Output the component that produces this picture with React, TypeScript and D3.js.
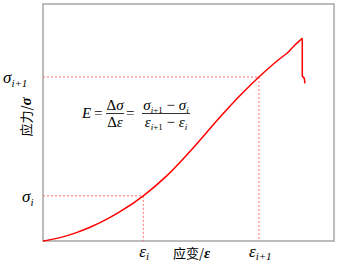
import * as d3 from 'd3';

// stress-strain curve (arbitrary units 0-100)
const strain = [0, 5.84, 11.0, 16.15, 21.3, 26.46, 34.47, 42.5, 50.5, 60.8, 67.7, 74.2, 79.7, 82.6, 83.85, 86.0, 89.1];
const stress = [0, 1.43, 3.33, 5.78, 8.78, 12.36, 19.07, 27.47, 37.8, 52.2, 61.35, 69.2, 75.2, 78.06, 79.2, 82.0, 85.5];
// fracture drop after the peak
const dropStrain = [89.1, 89.1, 89.8, 90.0];
const dropStress = [85.5, 69.6, 68.6, 66.5];

// the two marked points i and i+1
const markStrain = [34.47, 74.2];
const markStress = [19.07, 69.2];
const markSub = ['i', 'i+1'];

const xTitle = '应变/';
const yTitle = '应力/';

const serif = '"Liberation Serif", "Times New Roman", serif';
const cjk = '"Noto Sans CJK SC", sans-serif';

export default function App() {
  const width = 340;
  const height = 266;
  const margin = { top: 4, right: 6, bottom: 25, left: 43 };

  const x = d3.scaleLinear().domain([0, 100]).range([margin.left, width - margin.right]);
  const y = d3.scaleLinear().domain([0, 100]).range([height - margin.bottom, margin.top]);

  const rise = strain.map((s, i) => [s, stress[i]] as [number, number]);
  const drop = dropStrain.map((s, i) => [s, dropStress[i]] as [number, number]);

  const smooth = d3.line<[number, number]>()
    .x(d => x(d[0]))
    .y(d => y(d[1]))
    .curve(d3.curveMonotoneX);
  const straight = d3.line<[number, number]>()
    .x(d => x(d[0]))
    .y(d => y(d[1]));

  const x0 = x(0), y0 = y(0);

  return (
    <svg width={width} height={height} style={{ position: 'absolute', left: 0, top: 0 }}>
      <rect x={x0} y={margin.top} width={x(100) - x0} height={y0 - margin.top}
        fill="none" stroke="#a6a6a6" strokeWidth={1.5} />

      {markStrain.map((s, i) => (
        <g key={i} stroke="#ff7070" strokeWidth={1} strokeDasharray="2,2" fill="none">
          <line x1={x0} x2={x(s)} y1={y(markStress[i])} y2={y(markStress[i])} />
          <line x1={x(s)} x2={x(s)} y1={y(markStress[i])} y2={y0} />
        </g>
      ))}

      <path d={smooth(rise) ?? ''} fill="none" stroke="#ff0000" strokeWidth={1.5} />
      <path d={straight(drop) ?? ''} fill="none" stroke="#ff0000" strokeWidth={1.5} />

      {/* y-axis labels */}
      {markStress.map((v, i) => (
        <text key={i} x={i === 0 ? 22 : 3} y={y(v) + 6} fontFamily={serif} fontStyle="italic" fontSize={17}>
          σ<tspan fontSize={11} dy={4}>{markSub[i]}</tspan>
        </text>
      ))}
      {/* x-axis labels */}
      {markStrain.map((s, i) => (
        <text key={i} x={x(s) - (i === 0 ? 4 : 10)} y={257} fontFamily={serif} fontStyle="italic" fontSize={17}>
          ε<tspan fontSize={11} dy={3}>{markSub[i]}</tspan>
        </text>
      ))}

      <text x={173} y={258} fontSize={13} fontFamily={cjk}>
        {xTitle}<tspan fontFamily={serif} fontStyle="italic" fontWeight="bold" fontSize={15}>ε</tspan>
      </text>
      <text transform="translate(31,117) rotate(-90)" textAnchor="middle" fontSize={13} fontFamily={cjk}>
        {yTitle}<tspan fontFamily={serif} fontStyle="italic" fontWeight="bold" fontSize={15}>σ</tspan>
      </text>

      {/* modulus formula */}
      <g fontFamily={serif} fontSize={15}>
        <text x={82} y={118} fontStyle="italic">E</text>
        <text x={94} y={118}>=</text>
        <text x={115} y={110} textAnchor="middle">Δ<tspan fontStyle="italic">σ</tspan></text>
        <line x1={106} x2={124} y1={113.5} y2={113.5} stroke="#000" strokeWidth={0.8} />
        <text x={115} y={127} textAnchor="middle">Δ<tspan fontStyle="italic">ε</tspan></text>
        <text x={126} y={118}>=</text>
        <text x={166} y={110} textAnchor="middle">
          <tspan fontStyle="italic">σ</tspan><tspan fontSize={9} dy={3} fontStyle="italic">i</tspan><tspan fontSize={9}>+1</tspan>
          <tspan dy={-3}> − </tspan><tspan fontStyle="italic">σ</tspan><tspan fontSize={9} dy={3} fontStyle="italic">i</tspan>
        </text>
        <line x1={142} x2={190} y1={113.5} y2={113.5} stroke="#000" strokeWidth={0.8} />
        <text x={166} y={127} textAnchor="middle">
          <tspan fontStyle="italic">ε</tspan><tspan fontSize={9} dy={3} fontStyle="italic">i</tspan><tspan fontSize={9}>+1</tspan>
          <tspan dy={-3}> − </tspan><tspan fontStyle="italic">ε</tspan><tspan fontSize={9} dy={3} fontStyle="italic">i</tspan>
        </text>
      </g>
    </svg>
  );
}
